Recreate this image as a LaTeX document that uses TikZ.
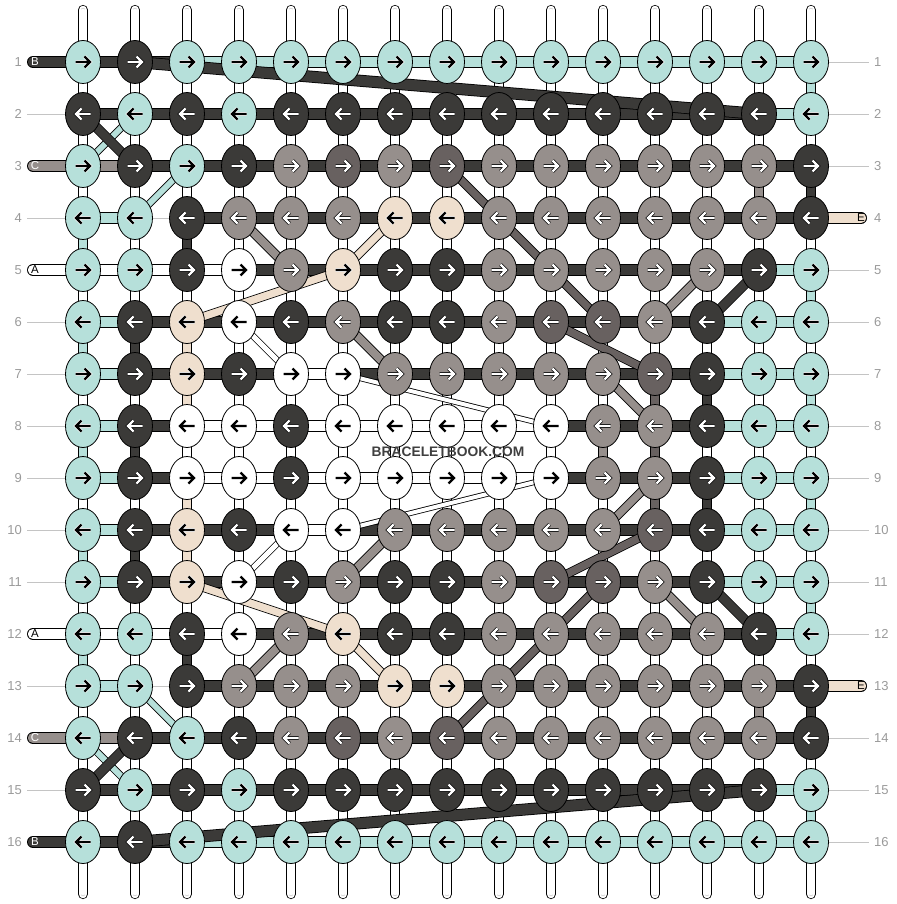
\documentclass[tikz,border=0pt]{standalone}
\usepackage{fontspec}
\setmainfont{Liberation Sans}
\usepackage{tikz}
\usetikzlibrary{shapes.geometric,backgrounds}

\definecolor{cm}{HTML}{B6E0DA}
\definecolor{cd}{HTML}{3B3A38}
\definecolor{cg}{HTML}{968F8C}
\definecolor{ck}{HTML}{686160}
\definecolor{cb}{HTML}{EFDFCE}
\definecolor{cw}{HTML}{FFFFFF}
\definecolor{numgray}{HTML}{9A9A9A}
\definecolor{linegray}{HTML}{C4C4C4}
\definecolor{markgray}{HTML}{3F3F3F}
% arrow colour (a..) and its rim (o..) for each knot colour
\colorlet{am}{black}\colorlet{om}{white}
\colorlet{ab}{black}\colorlet{ob}{white}
\colorlet{aw}{black}\colorlet{ow}{white}
\colorlet{ad}{white}\colorlet{od}{black}
\colorlet{ag}{white}\colorlet{og}{black}
\colorlet{ak}{white}\colorlet{ok}{black}

\tikzset{
  knot/.style={ellipse, draw=black, line width=0.8pt, fill=#1,
    minimum width=35pt, minimum height=43pt, inner sep=0pt},
  band/.style 2 args={draw=black, line width=0.8pt, double=#1, double distance=#2},
  warp/.style={draw=black, line width=0.8pt, double=white, double distance=8.6pt,
    postaction={draw=black!30, line width=0.5pt, double=white, double distance=3.2pt}},
  arrowline/.style={line cap=butt, line join=miter},
  hs-m/.style={band={cm}{10.4pt}}, hs-d/.style={band={cd}{10.4pt}},
  hs-g/.style={band={cg}{10.4pt}}, hs-w/.style={band={cw}{10.4pt}},
  hs-n/.style={draw=linegray, line width=0.9pt},
  vs-n/.style={warp}, vs-m/.style={band={cm}{8.6pt}}, vs-d/.style={band={cd}{8.6pt}},
  vs-g/.style={band={cg}{8.6pt}}, vs-k/.style={band={ck}{8.6pt}}, vs-b/.style={band={cb}{8.6pt}},
  labelline/.style={draw=linegray, line width=0.9pt},
  rownum/.style={font=\fontsize{13}{13}\selectfont, text=numgray, inner sep=0pt},
  tabletter/.style={font=\fontsize{11.5}{11.5}\selectfont, inner sep=0pt}
}

\begin{document}
\begin{tikzpicture}[x=1pt, y=-1pt]
\useasboundingbox (0,0) rectangle (896,904);

% knots, row by row
\foreach \r/\row in {
  1/{m,d,m,m,m,m,m,m,m,m,m,m,m,m,m},
  2/{d,m,d,m,d,d,d,d,d,d,d,d,d,d,m},
  3/{m,d,m,d,g,k,g,k,g,g,g,g,g,g,d},
  4/{m,m,d,g,g,g,b,b,g,g,g,g,g,g,d},
  5/{m,m,d,w,g,b,d,d,g,g,g,g,g,d,m},
  6/{m,d,b,w,d,g,d,d,g,k,k,g,d,m,m},
  7/{m,d,b,d,w,w,g,g,g,g,g,k,d,m,m},
  8/{m,d,w,w,d,w,w,w,w,w,g,g,d,m,m},
  9/{m,d,w,w,d,w,w,w,w,w,g,g,d,m,m},
  10/{m,d,b,d,w,w,g,g,g,g,g,k,d,m,m},
  11/{m,d,b,w,d,g,d,d,g,k,k,g,d,m,m},
  12/{m,m,d,w,g,b,d,d,g,g,g,g,g,d,m},
  13/{m,m,d,g,g,g,b,b,g,g,g,g,g,g,d},
  14/{m,d,m,d,g,k,g,k,g,g,g,g,g,g,d},
  15/{d,m,d,m,d,d,d,d,d,d,d,d,d,d,m},
  16/{m,d,m,m,m,m,m,m,m,m,m,m,m,m,m}}{
  \pgfmathtruncatemacro\dir{1-2*mod(\r+1,2)}
  \foreach \col [count=\c] in \row {
    \node[knot=c\col] (k-\r-\c) at ({83+52*(\c-1)},{62+52*(\r-1)}) {};
    \draw[shift={(k-\r-\c.center)}, xscale=\dir, arrowline, draw=o\col, line width=3.6pt]
      (-7.5,0) -- (6,0) (1.5,-5.5) -- (7,0) -- (1.5,5.5);
    \draw[shift={(k-\r-\c.center)}, xscale=\dir, arrowline, draw=a\col, line width=2.2pt]
      (-7.5,0) -- (6,0) (1.5,-5.5) -- (7,0) -- (1.5,5.5);
  }
}

\begin{scope}[on background layer]
% row lines at the sides
\foreach \r in {2,4,6,7,8,9,10,11,13,15}{
  \coordinate (ll-\r) at (27,{62+52*(\r-1)});
  \draw[labelline] (ll-\r) -- (k-\r-1.center);
}
\foreach \r in {1,2,3,5,6,7,8,9,10,11,12,14,15,16}{
  \coordinate (rl-\r) at (869,{62+52*(\r-1)});
  \draw[labelline] (k-\r-15.center) -- (rl-\r);
}
% thread ends
\foreach \r/\cl in {1/d,3/g,5/w,12/w,14/g,16/d}{
  \coordinate (lt-\r) at (33,{62+52*(\r-1)});
  \draw[band={c\cl}{10.4pt}, line cap=round] (lt-\r) -- (k-\r-1.center);
}
\foreach \r in {4,13}{
  \coordinate (rt-\r) at (861,{62+52*(\r-1)});
  \draw[band={cb}{10.4pt}, line cap=round] (k-\r-15.center) -- (rt-\r);
}
% strings above and below
\foreach \c in {1,...,15}{
  \coordinate (wt-\c) at ({83+52*(\c-1)},10);
  \coordinate (wb-\c) at ({83+52*(\c-1)},894);
  \draw[warp, line cap=round] (wt-\c) -- (k-1-\c.center);
  \draw[warp, line cap=round] (k-16-\c.center) -- (wb-\c);
}
% between rows
\foreach \r/\row in {
  1/{n,n,n,n,n,n,n,n,n,n,n,n,n,n,m},
  2/{n,n,n,n,n,n,n,n,n,n,n,n,n,n,n},
  3/{n,n,n,n,n,n,n,n,n,n,n,n,n,g,d},
  4/{m,n,d,n,n,n,n,n,n,n,n,n,n,n,n},
  5/{n,n,n,n,n,n,n,n,n,n,n,n,n,n,m},
  6/{m,d,b,n,n,n,n,n,n,n,n,n,n,n,n},
  7/{n,n,b,n,n,n,n,n,n,n,n,k,d,n,m},
  8/{m,d,n,n,n,n,n,n,n,n,g,k,n,n,n},
  9/{n,n,b,n,n,n,n,n,n,n,n,k,d,n,m},
  10/{m,d,b,n,n,n,n,n,n,n,n,n,n,n,n},
  11/{n,n,n,n,n,n,n,n,n,n,n,n,n,n,m},
  12/{m,n,d,n,n,n,n,n,n,n,n,n,n,n,n},
  13/{n,n,n,n,n,n,n,n,n,n,n,n,n,g,d},
  14/{n,n,n,n,n,n,n,n,n,n,n,n,n,n,n},
  15/{n,n,n,n,n,n,n,n,n,n,n,n,n,n,m}}{
  \pgfmathtruncatemacro\nr{\r+1}
  \foreach \s [count=\c] in \row
    \draw[vs-\s] (k-\r-\c.center) -- (k-\nr-\c.center);
}
% along the rows
\foreach \r/\row in {
  1/{d,d,m,m,m,m,m,m,m,m,m,m,m,m},
  2/{d,d,d,d,d,d,d,d,d,d,d,d,d,m},
  3/{g,d,d,d,d,d,d,d,d,d,d,d,d,d},
  4/{m,n,d,d,d,d,d,d,d,d,d,d,d,d},
  5/{w,w,w,d,d,d,d,d,d,d,d,d,d,m},
  6/{m,d,d,d,d,d,d,d,d,d,d,d,m,m},
  7/{m,d,d,d,w,d,d,d,d,d,d,d,m,m},
  8/{m,d,w,w,w,w,w,w,w,d,d,d,m,m},
  9/{m,d,w,w,w,w,w,w,w,d,d,d,m,m},
  10/{m,d,d,d,w,d,d,d,d,d,d,d,m,m},
  11/{m,d,d,d,d,d,d,d,d,d,d,d,m,m},
  12/{w,w,w,d,d,d,d,d,d,d,d,d,d,m},
  13/{m,n,d,d,d,d,d,d,d,d,d,d,d,d},
  14/{g,d,d,d,d,d,d,d,d,d,d,d,d,d},
  15/{d,d,d,d,d,d,d,d,d,d,d,d,d,m},
  16/{d,d,m,m,m,m,m,m,m,m,m,m,m,m}}{
  \foreach \s [count=\c] in \row {
    \pgfmathtruncatemacro\nc{\c+1}
    \draw[hs-\s] (k-\r-\c.center) -- (k-\r-\nc.center);
  }
}
% carried threads, upper half and its mirror
\foreach \ra/\ca/\rz/\cz/\cl/\w in {
  1/2/2/14/d/10.4pt, 2/2/3/1/m/6pt, 2/1/3/2/d/8.6pt, 3/3/4/2/m/6pt,
  3/8/6/11/k/7.4pt, 4/4/5/5/g/8pt, 4/7/5/6/b/7.4pt, 5/6/6/3/b/7.4pt,
  5/13/6/12/g/8pt, 5/14/6/13/d/8.6pt, 6/6/7/7/g/8pt, 6/4/7/5/w/5pt,
  6/10/7/12/k/7.4pt, 7/11/8/12/g/7.4pt, 7/6/8/10/w/4pt}{
  \pgfmathtruncatemacro\ma{17-\ra}
  \pgfmathtruncatemacro\mz{17-\rz}
  \draw[band={c\cl}{\w}] (k-\ra-\ca.center) -- (k-\rz-\cz.center);
  \draw[band={c\cl}{\w}] (k-\ma-\ca.center) -- (k-\mz-\cz.center);
}
\end{scope}

% row numbers and thread letters
\foreach \r in {1,...,16}{
  \node[rownum, anchor=east] (ln-\r) at (22,{62+52*(\r-1)}) {\r};
  \node[rownum, anchor=west] (rn-\r) at (874,{62+52*(\r-1)}) {\r};
}
\foreach \r/\cl/\t in {1/d/B,3/g/C,5/w/A,12/w/A,14/g/C,16/d/B}
  \node[tabletter, text=a\cl] (tl-\r) at (35,{62+52*(\r-1)}) {\t};
\foreach \r in {4,13}
  \node[tabletter, text=black] (tr-\r) at (861,{62+52*(\r-1)}) {E};

\node[font=\fontsize{13.8}{14}\selectfont\bfseries, text=markgray] (mark) at (448,452) {BRACELETBOOK.COM};

\end{tikzpicture}
\end{document}
